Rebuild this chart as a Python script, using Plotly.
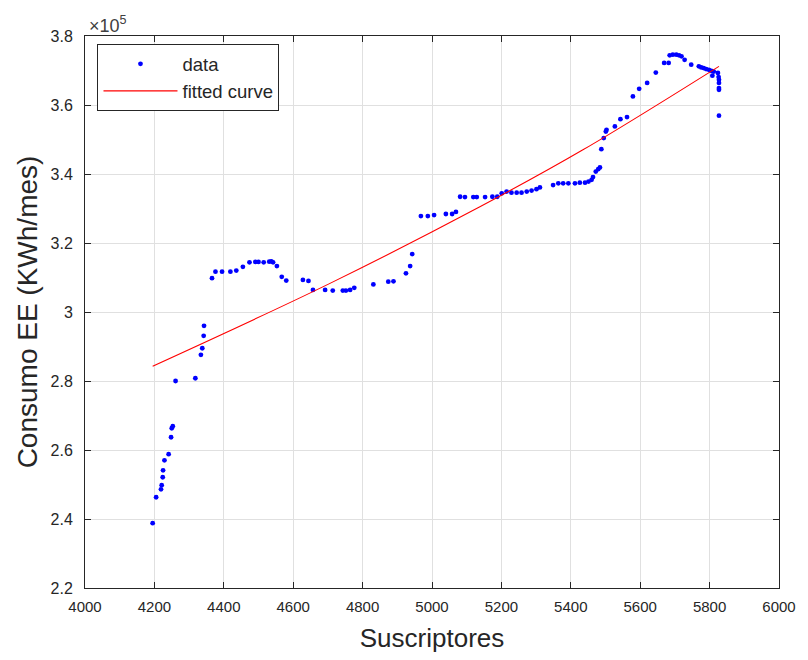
import plotly.graph_objects as go

# Data (consumo in units of 10^5 KWh/mes)
suscriptores = [
    4195, 4205, 4219, 4221, 4224, 4225, 4229, 4241, 4248, 4250, 4253, 4261, 4318, 4334, 4338, 4342, 4343,
    4366, 4376, 4395, 4419, 4436, 4455, 4474, 4491, 4500, 4515, 4531, 4537, 4542, 4553, 4567, 4580,
    4628, 4644, 4657, 4692, 4714, 4743, 4752, 4764, 4776, 4831, 4874, 4889, 4925, 4937, 4943,
    4968, 4988, 5006, 5040, 5058, 5069, 5081, 5095, 5119, 5129, 5153, 5174, 5188, 5201, 5215, 5229,
    5244, 5258, 5273, 5287, 5301, 5311,
    5349, 5364, 5378, 5393, 5412, 5426, 5441, 5451, 5460, 5464, 5472, 5479, 5484, 5488, 5495, 5501,
    5503, 5527, 5543, 5562, 5579, 5597, 5620, 5645, 5669, 5682,
    5685, 5694, 5704, 5712, 5719, 5728, 5747, 5769, 5776, 5783, 5790, 5798, 5805, 5812, 5808, 5824,
    5826, 5827, 5827, 5827, 5827, 5827,
]
consumo_e5 = [
    2.388, 2.463, 2.486, 2.498, 2.521, 2.541, 2.570, 2.588, 2.637, 2.663, 2.669, 2.800, 2.808, 2.876, 2.895, 2.931, 2.960,
    3.098, 3.117, 3.117, 3.117, 3.120, 3.131, 3.144, 3.145, 3.145, 3.144, 3.146, 3.147, 3.144, 3.133, 3.102, 3.091,
    3.093, 3.090, 3.064, 3.064, 3.062, 3.062, 3.062, 3.064, 3.070, 3.080, 3.088, 3.089, 3.112, 3.133, 3.168,
    3.278, 3.278, 3.281, 3.284, 3.284, 3.290, 3.334, 3.333, 3.333, 3.333, 3.333, 3.334, 3.334, 3.344, 3.349, 3.346,
    3.346, 3.346, 3.349, 3.352, 3.356, 3.361,
    3.368, 3.373, 3.373, 3.373, 3.373, 3.375, 3.375, 3.378, 3.383, 3.391, 3.407, 3.414, 3.419, 3.472, 3.504, 3.523,
    3.528, 3.538, 3.559, 3.565, 3.625, 3.647, 3.664, 3.694, 3.722, 3.722,
    3.744, 3.746, 3.746, 3.744, 3.741, 3.731, 3.717, 3.712, 3.709, 3.707, 3.704, 3.702, 3.699, 3.697, 3.685, 3.693,
    3.681, 3.673, 3.664, 3.649, 3.644, 3.569,
]

# Fitted curve, points
fit_x = [4195, 4706, 5138, 5435, 5827]
fit_y_e5 = [2.843, 3.083, 3.305, 3.470, 3.712]

x_ticks = [4000, 4200, 4400, 4600, 4800, 5000, 5200, 5400, 5600, 5800, 6000]
y_ticks_e5 = [2.2, 2.4, 2.6, 2.8, 3.0, 3.2, 3.4, 3.6, 3.8]
y_tick_text = ["2.2", "2.4", "2.6", "2.8", "3", "3.2", "3.4", "3.6", "3.8"]

consumo = [v * 1e5 for v in consumo_e5]
fit_y = [v * 1e5 for v in fit_y_e5]
y_ticks = [v * 1e5 for v in y_ticks_e5]

FONT = "Liberation Sans, Arial, sans-serif"
TXT = "#262626"

fig = go.Figure()
fig.add_trace(go.Scatter(
    x=suscriptores, y=consumo, mode="markers", name="data",
    marker=dict(color="#0000ff", size=4.8, line=dict(width=0)),
))
fig.add_trace(go.Scatter(
    x=fit_x, y=fit_y, mode="lines", name="fitted curve",
    line=dict(color="#ff0000", width=1.1, shape="spline"),
))

axis_common = dict(
    showline=True, linecolor=TXT, linewidth=1, mirror="allticks",
    ticks="inside", ticklen=6, tickcolor=TXT, tickwidth=1,
    showgrid=True, gridcolor="#e0e0e0", gridwidth=1, zeroline=False,
)

fig.update_layout(
    width=808, height=660,
    margin=dict(l=85, r=29, t=36, b=72),
    paper_bgcolor="white", plot_bgcolor="white",
    showlegend=True,
    legend=dict(
        x=0.018, y=0.985, xanchor="left", yanchor="top",
        bgcolor="white", bordercolor=TXT, borderwidth=1,
        font=dict(family=FONT, size=18.5, color=TXT),
        itemwidth=74, tracegroupgap=0,
    ),
    xaxis=dict(
        range=[4000, 6000], tickvals=x_ticks,
        tickfont=dict(family=FONT, size=15, color=TXT),
        ticklabelstandoff=5,
        title=dict(text="Suscriptores", font=dict(family=FONT, size=26, color=TXT), standoff=14),
        **axis_common,
    ),
    yaxis=dict(
        range=[2.2e5, 3.8e5], tickvals=y_ticks, ticktext=y_tick_text,
        tickfont=dict(family=FONT, size=16, color=TXT),
        ticklabelstandoff=8,
        title=dict(text="Consumo EE (KWh/mes)", font=dict(family=FONT, size=28, color=TXT), standoff=4),
        **axis_common,
    ),
    annotations=[dict(
        x=0, y=1, xref="paper", yref="paper", xanchor="left", yanchor="bottom",
        text="×10<sup>5</sup>", showarrow=False, xshift=2, yshift=-2,
        font=dict(family=FONT, size=18, color="#404040"),
    )],
)

fig.write_html("out.html")
